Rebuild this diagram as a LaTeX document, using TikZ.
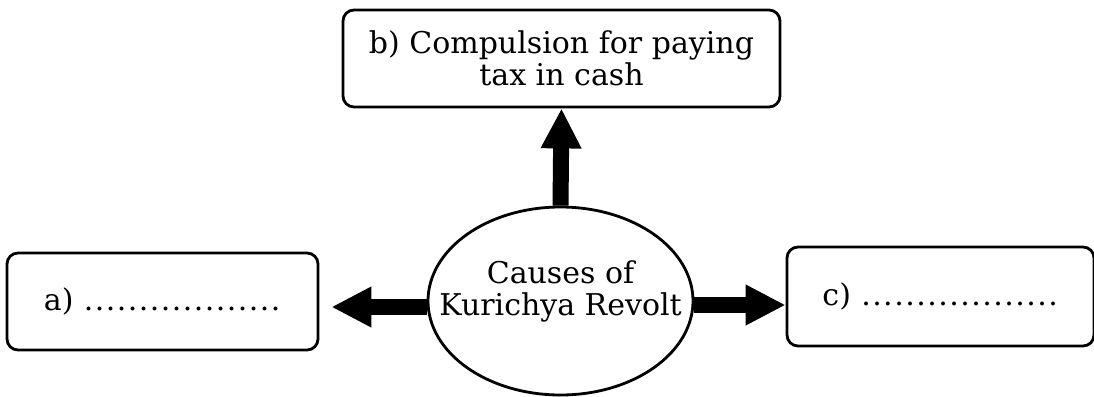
\documentclass[tikz,border=0pt]{standalone}
\usepackage{fontspec}
\setmainfont{DejaVu Serif}
\usetikzlibrary{shapes.geometric,arrows.meta}
% row of evenly spaced dots used as a fill-in blank
\newcommand\blankdots[1]{\cleaders\hbox to 11pt{\hss.\hss}\hskip #1\relax}

\begin{document}
\begin{tikzpicture}[x=1pt,y=-1pt,
  txt/.style={font=\fontsize{30}{32}\selectfont, align=center, inner sep=0pt},
  card/.style={txt, draw, line width=2.8pt, rounded corners=11pt},
  hub/.style={draw, ellipse, line width=2.8pt, inner sep=0pt},
  bigarrow/.style={line width=16pt, -{Triangle[width=38pt,length=40pt]}}]
  \useasboundingbox (0,0) rectangle (1094,396);

  % centre oval
  \node[hub, minimum width=265pt, minimum height=188pt] (cause) at (560.5,301) {};
  \node[txt] (title) at (560.5,291) {Causes of\\Kurichya Revolt};

  % answer boxes
  \node[card, minimum width=437pt, minimum height=97pt] (b) at (561.5,58.5)
    {b) Compulsion for paying\\tax in cash};
  \node[card, minimum width=311pt, minimum height=97pt] (a) at (162.5,301.5)
    {a) \blankdots{198pt}};
  \node[card, minimum width=307pt, minimum height=99pt] (c) at (940.5,296.5)
    {c) \blankdots{198pt}};

  % thick arrows out of the oval
  \draw[bigarrow] (cause.north) -- (b.south);
  \coordinate (lstart) at ([yshift=-6pt]cause.west);
  \draw[bigarrow, shorten >=12pt] (lstart) -- (lstart -| a.east);
  \coordinate (rstart) at ([yshift=-4pt]cause.east);
  \draw[bigarrow] (rstart) -- (rstart -| c.west);
\end{tikzpicture}
\end{document}
